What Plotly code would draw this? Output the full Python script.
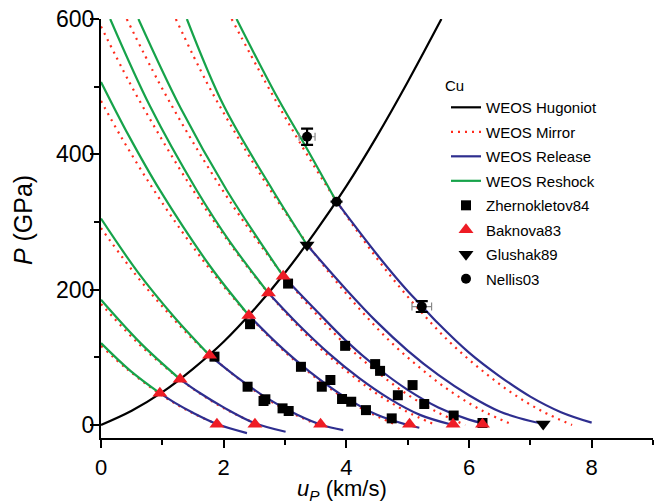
import plotly.graph_objects as go

# ---- WEOS Hugoniot of Cu (u_p in km/s, P in GPa) ----
hug_u = [0, 0.5, 1.0, 1.5, 2.0, 2.5, 3.0, 3.5, 4.0, 4.5, 5.0, 5.55]
hug_p = [0, 21, 48.5, 83, 123, 171, 225, 286, 353, 427, 507, 600]

# ---- WEOS mirror curves (dotted) ----
mirror_u = [
    [0, 0.42, 0.92, 1.42, 1.92],
    [0, 0.08, 0.58, 1.08, 1.58, 2.08, 2.58],
    [0, 0.04, 0.54, 1.04, 1.54, 2.04, 2.54, 3.04, 3.54],
    [0, 0.32, 0.82, 1.32, 1.82, 2.32, 2.82, 3.32, 3.82, 4.32, 4.82],
    [0, 0.46, 0.96, 1.46, 1.96, 2.46, 2.96, 3.46, 3.96, 4.46, 4.96, 5.46],
    [0.42, 0.94, 1.44, 1.94, 2.44, 2.94, 3.44, 3.94, 4.44, 4.94, 5.44, 5.94],
    [1.22, 1.72, 2.22, 2.72, 3.22, 3.72, 4.22, 4.72, 5.22, 5.72, 6.22, 6.72],
    [2.13, 2.68, 3.18, 3.68, 4.18, 4.68, 5.18, 5.68, 6.18, 6.68, 7.18, 7.68],
]
mirror_p = [
    [117, 83, 48.5, 21, 0],
    [179, 171, 123, 83, 48.5, 21, 0],
    [291, 286, 225, 171, 123, 83, 48.5, 21, 0],
    [479, 427, 353, 286, 225, 171, 123, 83, 48.5, 21, 0],
    [589, 507, 427, 353, 286, 225, 171, 123, 83, 48.5, 21, 0],
    [600, 507, 427, 353, 286, 225, 171, 123, 83, 48.5, 21, 0],
    [600, 507, 427, 353, 286, 225, 171, 123, 83, 48.5, 21, 0],
    [600, 507, 427, 353, 286, 225, 171, 123, 83, 48.5, 21, 0],
]

# ---- WEOS release isentropes ----
release_u = [
    [0.96, 1.2, 1.5, 1.9, 2.38],
    [1.29, 1.6, 2.0, 2.5, 3.01],
    [1.77, 2.2, 2.7, 3.2, 3.6, 3.95],
    [2.41, 2.9, 3.4, 4.0, 4.5, 5.0, 5.19],
    [2.73, 3.2, 3.7, 4.2, 4.7, 5.2, 5.74],
    [2.97, 3.5, 4.0, 4.5, 5.0, 5.5, 6.0, 6.24],
    [3.36, 4.0, 4.5, 5.0, 5.5, 6.0, 6.5, 7.0, 7.19],
    [3.84, 4.5, 5.0, 5.23, 5.5, 6.0, 6.5, 7.0, 7.5, 8.0],
]
release_p = [
    [47, 33, 18, 1, -12],
    [67.5, 48, 26, 3, -10],
    [103, 72, 40, 15, 0, -7.5],
    [162, 118, 79, 40, 15, 0, -4],
    [195, 150, 107, 70, 39, 15, 0],
    [220, 170, 124, 85, 52, 26, 8, 2.5],
    [266, 200, 152, 110, 74, 44, 20, 6, 2.5],
    [330, 252, 198, 176, 150, 107, 72, 42, 19, 3.5],
]

# ---- WEOS reshock curves ----
reshock_u = [
    [0.96, 0.48, 0],
    [1.29, 0.645, 0],
    [1.77, 1.2, 0.6, 0],
    [2.41, 1.8, 0.96, 0.45, 0],
    [2.73, 2.1, 1.56, 0.8, 0.15],
    [2.97, 2.05, 1.3, 0.61],
    [3.36, 2.8, 2.0, 1.40],
    [3.84, 3.36, 2.84, 2.21],
]
reshock_p = [
    [47, 80, 121],
    [67.5, 121, 185],
    [103, 159, 226, 305],
    [162, 232, 347, 428, 507],
    [195, 271, 347, 471, 600],
    [220, 347, 468, 600],
    [266, 347, 472, 600],
    [330, 408, 490, 600],
]

# ---- experimental data ----
zher_u = [1.85, 2.43, 3.05, 2.39, 2.68, 2.65, 2.96, 3.06, 3.26, 3.98, 3.60, 3.74,
          3.93, 4.08, 4.32, 4.47, 4.55, 4.74, 4.84, 5.08, 5.27, 5.75, 6.22]
zher_p = [101, 149, 209, 56.6, 38, 35.5, 24.6, 20.7, 86, 117, 56.6, 66.5,
          38.4, 34.4, 22, 90, 80, 9.8, 44, 59, 31, 14, 3]

bak_u = [0.96, 1.29, 1.77, 2.41, 2.73, 2.97, 1.89, 2.51, 3.58, 5.03, 5.74, 6.22]
bak_p = [47, 67.5, 103, 162, 195, 220, 1, 1, 1, 1, 1, 1]

glu_u = [3.36, 7.21]
glu_p = [266, 1.5]

nel_u = [3.84, 3.36, 5.23]
nel_p = [330, 426, 175]
nel_err_p = [0, 12, 8]
nel_err_u = [0, 0.13, 0.16]

BLACK = "#000000"
RED = "#ff2b1c"
BLUE = "#2e2e8f"
GREEN = "#16a34a"
TRI_RED = "#ee1c25"
FONT = "Liberation Sans, Arial, sans-serif"

fig = go.Figure()


def add_family(us, ps, name, color, dash, group):
    for i, (u, p) in enumerate(zip(us, ps)):
        fig.add_trace(go.Scatter(
            x=u, y=p, mode="lines", name=name,
            line=dict(color=color, width=2.2, dash=dash, shape="spline", smoothing=1.0),
            legendgroup=group, showlegend=(i == 0), hoverinfo="skip"))


fig.add_trace(go.Scatter(
    x=hug_u, y=hug_p, mode="lines", name="WEOS Hugoniot",
    line=dict(color=BLACK, width=2.2, shape="spline", smoothing=1.0),
    legendgroup="hug"))
add_family(mirror_u, mirror_p, "WEOS Mirror", RED, "2px,5px", "mir")
add_family(release_u, release_p, "WEOS Release", BLUE, "solid", "rel")
add_family(reshock_u, reshock_p, "WEOS Reshock", GREEN, "solid", "res")

fig.add_trace(go.Scatter(
    x=zher_u, y=zher_p, mode="markers", name="Zhernokletov84", legendgroup="zh",
    marker=dict(symbol="square", size=10, color=BLACK)))
fig.add_trace(go.Scatter(
    x=bak_u, y=bak_p, mode="markers", name="Baknova83", legendgroup="bk",
    marker=dict(symbol="triangle-up", size=13, color=TRI_RED)))
fig.add_trace(go.Scatter(
    x=glu_u, y=glu_p, mode="markers", name="Glushak89", legendgroup="gl",
    marker=dict(symbol="triangle-down", size=13, color=BLACK)))
fig.add_trace(go.Scatter(
    x=nel_u, y=nel_p, mode="markers", name="Nellis03", legendgroup="ne",
    marker=dict(symbol="circle", size=10, color=BLACK),
    error_y=dict(type="data", array=nel_err_p, color=BLACK, thickness=2.2, width=6),
    error_x=dict(type="data", array=nel_err_u, color="#888888", thickness=1.2, width=4)))

axis_common = dict(
    showline=True, linecolor=BLACK, linewidth=2.2, mirror=False,
    ticks="outside", tickwidth=2, tickcolor=BLACK,
    showgrid=False, zeroline=False,
)

fig.update_layout(
    width=655, height=503,
    margin=dict(l=101, r=2, t=19, b=65),
    paper_bgcolor="white", plot_bgcolor="white",
    showlegend=True,
    legend=dict(
        x=0.625, y=0.828, xanchor="left", yanchor="top",
        bgcolor="rgba(0,0,0,0)", borderwidth=0,
        font=dict(family=FONT, size=15, color=BLACK),
        traceorder="grouped", tracegroupgap=2,
    ),
    xaxis=dict(range=[0, 9], dtick=2, tick0=0, ticklen=8,
               tickfont=dict(family=FONT, size=22, color=BLACK),
               minor=dict(dtick=1, ticklen=5, tickwidth=2, ticks="outside", tickcolor=BLACK),
               **axis_common),
    yaxis=dict(range=[-19.2, 600], dtick=200, tick0=0, ticklen=9, ticklabelstandoff=-9,
               tickfont=dict(family=FONT, size=23, color=BLACK),
               minor=dict(dtick=100, ticklen=5, tickwidth=2, ticks="outside", tickcolor=BLACK),
               **axis_common),
    annotations=[
        dict(text="Cu", x=0.641, y=0.842, xref="paper", yref="paper",
             xanchor="center", yanchor="middle",
             showarrow=False, font=dict(family=FONT, size=15, color=BLACK)),
        dict(text="<i>P</i> (GPa)", x=-0.1413, y=0.52, xref="paper", yref="paper",
             xanchor="center", yanchor="middle",
             textangle=-90, showarrow=False, font=dict(family=FONT, size=25, color=BLACK)),
        dict(text="<i>u</i><sub><i>P</i></sub> (km/s)", x=0.4366, y=-0.1241,
             xref="paper", yref="paper", xanchor="center", yanchor="middle",
             borderpad=0,
             showarrow=False, font=dict(family=FONT, size=22, color=BLACK)),
    ],
)

fig.write_html("out.html")
